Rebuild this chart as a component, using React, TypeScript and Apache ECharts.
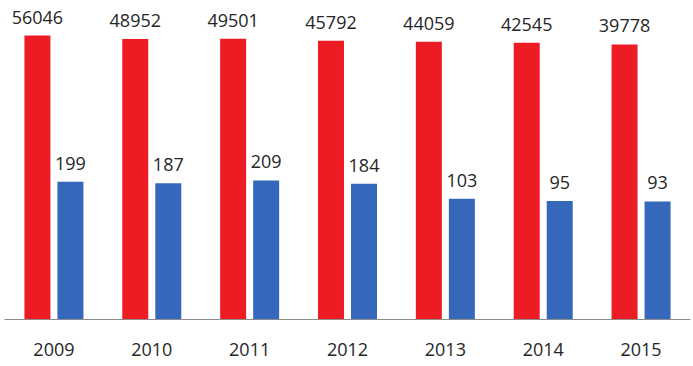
import React, { useEffect, useRef } from "react";
import * as echarts from "echarts";

const years = ["2009", "2010", "2011", "2012", "2013", "2014", "2015"];
const redValues = [56046, 48952, 49501, 45792, 44059, 42545, 39778];
const blueValues = [199, 187, 209, 184, 103, 95, 93];

const FONT = "'Open Sans', sans-serif";

export default function App() {
  const ref = useRef<HTMLDivElement>(null);
  useEffect(() => {
    if (!ref.current) return;
    const chart = echarts.init(ref.current, undefined, { renderer: "svg" });
    const label = {
      show: true,
      position: "top",
      distance: 10,
      color: "#262626",
      fontSize: 18,
      fontFamily: FONT,
    };
    chart.setOption({
      animation: false,
      grid: { left: 5, right: 3, top: 20.5, bottom: 47, containLabel: false },
      xAxis: {
        type: "category",
        data: years,
        axisLine: { show: true, lineStyle: { color: "#8c8c8c", width: 1 } },
        axisTick: { show: false },
        axisLabel: {
          color: "#262626",
          fontSize: 18,
          fontFamily: FONT,
          margin: 21,
        },
      },
      yAxis: {
        type: "log",
        logBase: 10,
        min: 1,
        max: 100000,
        show: false,
        splitLine: { show: false },
      },
      series: [
        {
          type: "bar",
          data: redValues,
          barWidth: 26,
          barGap: "27%",
          itemStyle: { color: "#ED1C24" },
          label,
        },
        {
          type: "bar",
          data: blueValues,
          barWidth: 26,
          barGap: "27%",
          itemStyle: { color: "#3568BA" },
          label,
        },
      ],
    });
    return () => chart.dispose();
  }, []);
  return (
    <div
      ref={ref}
      style={{ width: 693, height: 366, position: "absolute", left: 0, top: 0, background: "#fff" }}
    />
  );
}
